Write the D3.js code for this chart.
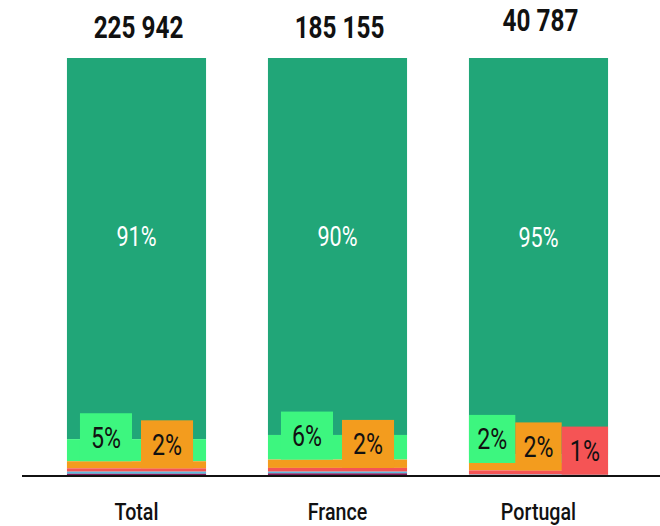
<!DOCTYPE html>
<html>
<head>
<meta charset="utf-8">
<script src="https://cdn.jsdelivr.net/npm/d3@7"></script>
<style>
  body { margin: 0; background: #fff; }
  svg text { font-family: Roboto, 'DejaVu Sans', sans-serif; }
</style>
</head>
<body>
<script>
var categories = ['Total', 'France', 'Portugal'];
var totals = [225942, 185155, 40787];
var seriesKeys = ['s1', 's2', 's3', 's4', 's5', 's6'];
var colors = ['#21a678', '#3df67f', '#f39c1e', '#f55455', '#5cbbe0', '#7d1d5a'];
// share (%) of each series, listed from top of the bar to bottom
var s1 = [91.4, 90.4, 95.1];
var s2 = [5.3, 5.9, 2.0];
var s3 = [1.7, 2.0, 1.8];
var s4 = [0.8, 0.9, 1.0];
var s5 = [0.5, 0.4, 0.1];
var s6 = [0.3, 0.4, 0.0];
var seriesValues = [s1, s2, s3, s4, s5, s6];

var width = 660, height = 526;
var SX = 0.8; // squeeze text to look like a condensed face

var svg = d3.select('body').append('svg')
  .attr('width', width)
  .attr('height', height);

var x = d3.scaleBand()
  .domain(categories)
  .range([36, 639])
  .paddingInner(0.308)
  .paddingOuter(0.154);

var y = d3.scaleLinear()
  .domain([0, 100])
  .range([475, 58]);

function label(parent, tx, ty, sx) {
  return parent.append('g')
    .attr('transform', 'translate(' + tx + ',' + ty + ') scale(' + sx + ',1)')
    .append('text')
    .attr('text-anchor', 'middle');
}

categories.forEach(function(cat, ci) {
  var g = svg.append('g').attr('class', 'bar');
  var segs = [];
  var top = 100;
  seriesKeys.forEach(function(k, si) {
    var v = seriesValues[si][ci];
    segs.push({ cat: cat, si: si, v: v, y0: top - v, y1: top });
    top -= v;
  });
  segs[segs.length - 1].y0 = 0;

  g.selectAll('rect').data(segs)
    .enter()
    .append('rect')
    .attr('x', x(cat))
    .attr('width', x.bandwidth())
    .attr('y', function(d) { return y(d.y1); })
    .attr('height', function(d) { return Math.max(0, y(d.y0) - y(d.y1)); })
    .attr('fill', function(d) { return colors[d.si]; });

  // small labels in boxes
  var small = segs.filter(function(d) { return d.si > 0 && d.v >= 1; });
  var pad = 11, gap = 9, boxH = 48;
  var widths = small.map(function(d) {
    var t = g.append('text')
      .attr('font-size', 29)
      .text(Math.round(d.v) + '%');
    var w = t.node().getComputedTextLength() * SX;
    t.remove();
    return w + pad * 2;
  });
  var sum = d3.sum(widths) + gap * (small.length - 1);
  var bw = x.bandwidth();
  var k = 1;
  if (sum > bw) { gap = 0; k = bw / d3.sum(widths); sum = bw; }
  var cx = x(cat) + (bw - sum) / 2;
  var boxTop = y(0);
  small.forEach(function(d, i) {
    var w = widths[i] * k;
    var yb = y(d.y0);
    boxTop = Math.min(boxTop, yb - boxH);
    g.append('rect')
      .attr('x', cx)
      .attr('y', yb - boxH)
      .attr('width', w)
      .attr('height', boxH)
      .attr('fill', colors[d.si]);
    label(g, cx + w / 2, yb - boxH / 2, SX)
      .attr('dy', '0.36em')
      .attr('font-size', 29)
      .attr('fill', '#111')
      .text(Math.round(d.v) + '%');
    cx += w + gap;
  });

  // big label
  var big = segs[0];
  label(g, x(cat) + bw / 2, (y(big.y1) + boxTop) / 2 + 1, SX)
    .attr('dy', '0.36em')
    .attr('font-size', 27)
    .attr('fill', '#fff')
    .text(Math.round(big.v) + '%');

  // total on top
  label(g, x(cat) + bw / 2 + 2, ci === 2 ? 31 : 38, 0.76)
    .attr('font-size', 32)
    .attr('font-weight', 'bold')
    .attr('fill', '#111')
    .text(d3.format(',')(totals[ci]).replace(/,/g, ' '));
});

// baseline
svg.append('line')
  .attr('x1', 22).attr('x2', width)
  .attr('y1', 476).attr('y2', 476)
  .attr('stroke', '#111')
  .attr('stroke-width', 2);

// category labels
var xAxis = d3.axisBottom(x).tickSize(0).tickPadding(0);
var ax = svg.append('g')
  .attr('transform', 'translate(0,' + 503 + ')')
  .call(xAxis);
ax.select('.domain').remove();
ax.selectAll('text')
  .attr('font-size', 24)
  .attr('font-weight', 500)
  .attr('fill', '#111')
  .attr('dy', '0.71em')
  .attr('transform', 'scale(0.82,1)')
  .style('font-family', "Roboto, 'DejaVu Sans', sans-serif");
</script>
</body>
</html>
